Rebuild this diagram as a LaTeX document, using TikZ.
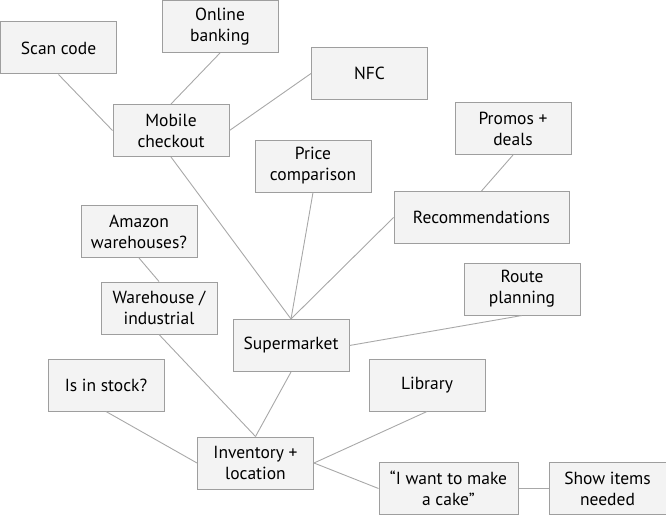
\documentclass[tikz,border=0pt]{standalone}
\usepackage{fontspec}
\setmainfont{PT Sans}
\usetikzlibrary{calc}

\definecolor{boxfill}{HTML}{F3F3F3}
\definecolor{boxline}{HTML}{9E9E9E}
\definecolor{linkline}{HTML}{A8A8A8}

\begin{document}
\begin{tikzpicture}[x=1pt,y=-1pt,
    idea/.style={draw=boxline,fill=boxfill,line width=1pt,minimum width=116pt,
      minimum height=52pt,inner sep=0pt,align=center,
      font=\fontsize{17.5}{21}\selectfont},
    link/.style={draw=linkline,line width=0.9pt}]
    % fix the page to the size of the reference
    \useasboundingbox (0,0) rectangle (666,516);

    % mobile checkout branch
    \node[idea] (scan) at (58.5,48) {Scan code};
    \node[idea] (banking) at (220,26.5) {Online\\banking};
    \node[idea] (nfc) at (369.5,73.5) {NFC};
    \node[idea] (mobile) at (171,130.5) {Mobile\\checkout};
    % recommendations branch
    \node[idea] (promos) at (513,128.5) {Promos +\\deals};
    \node[idea,minimum width=175pt] (recs) at (481.5,217.5) {Recommendations};
    \node[idea] (price) at (313,166) {Price\\comparison};
    % warehouse branch
    \node[idea] (amazon) at (139,231.5) {Amazon\\warehouses?};
    \node[idea] (warehouse) at (159,308) {Warehouse /\\industrial};
    % centre
    \node[idea] (market) at (291,345.5) {Supermarket};
    \node[idea] (route) at (522,289) {Route\\planning};
    \node[idea] (stock) at (106,385) {Is in stock?};
    \node[idea] (library) at (427,385) {Library};
    \node[idea] (inventory) at (255.5,463) {Inventory +\\location};
    \node[idea,minimum width=139pt] (cake) at (448.5,488.5) {“I want to make\\a cake”};
    \node[idea,minimum width=117pt] (show) at (607.5,488.5) {Show items\\needed};

    % links between the ideas
    \draw[link] (scan.south) -- (mobile.west);
    \draw[link] (banking.south) -- (mobile.north);
    \draw[link] (nfc.west) -- (mobile.east);
    \draw[link] (mobile.south) -- (market.north);
    \draw[link] (price.south) -- (market.north);
    \draw[link] (recs.west) -- (market.north);
    \draw[link] (promos.south) -- (recs.north);
    \draw[link] (amazon.south) -- (warehouse.north);
    \draw[link] (warehouse.south) -- (inventory.north);
    \draw[link] (market.east) -- (route.south);
    \draw[link] (market.south) -- (inventory.north);
    \draw[link] (stock.south) -- (inventory.west);
    \draw[link] (library.south) -- (inventory.east);
    \draw[link] (inventory.east) -- (cake.west);
    \draw[link] (cake.east) -- (show.west);
\end{tikzpicture}
\end{document}
